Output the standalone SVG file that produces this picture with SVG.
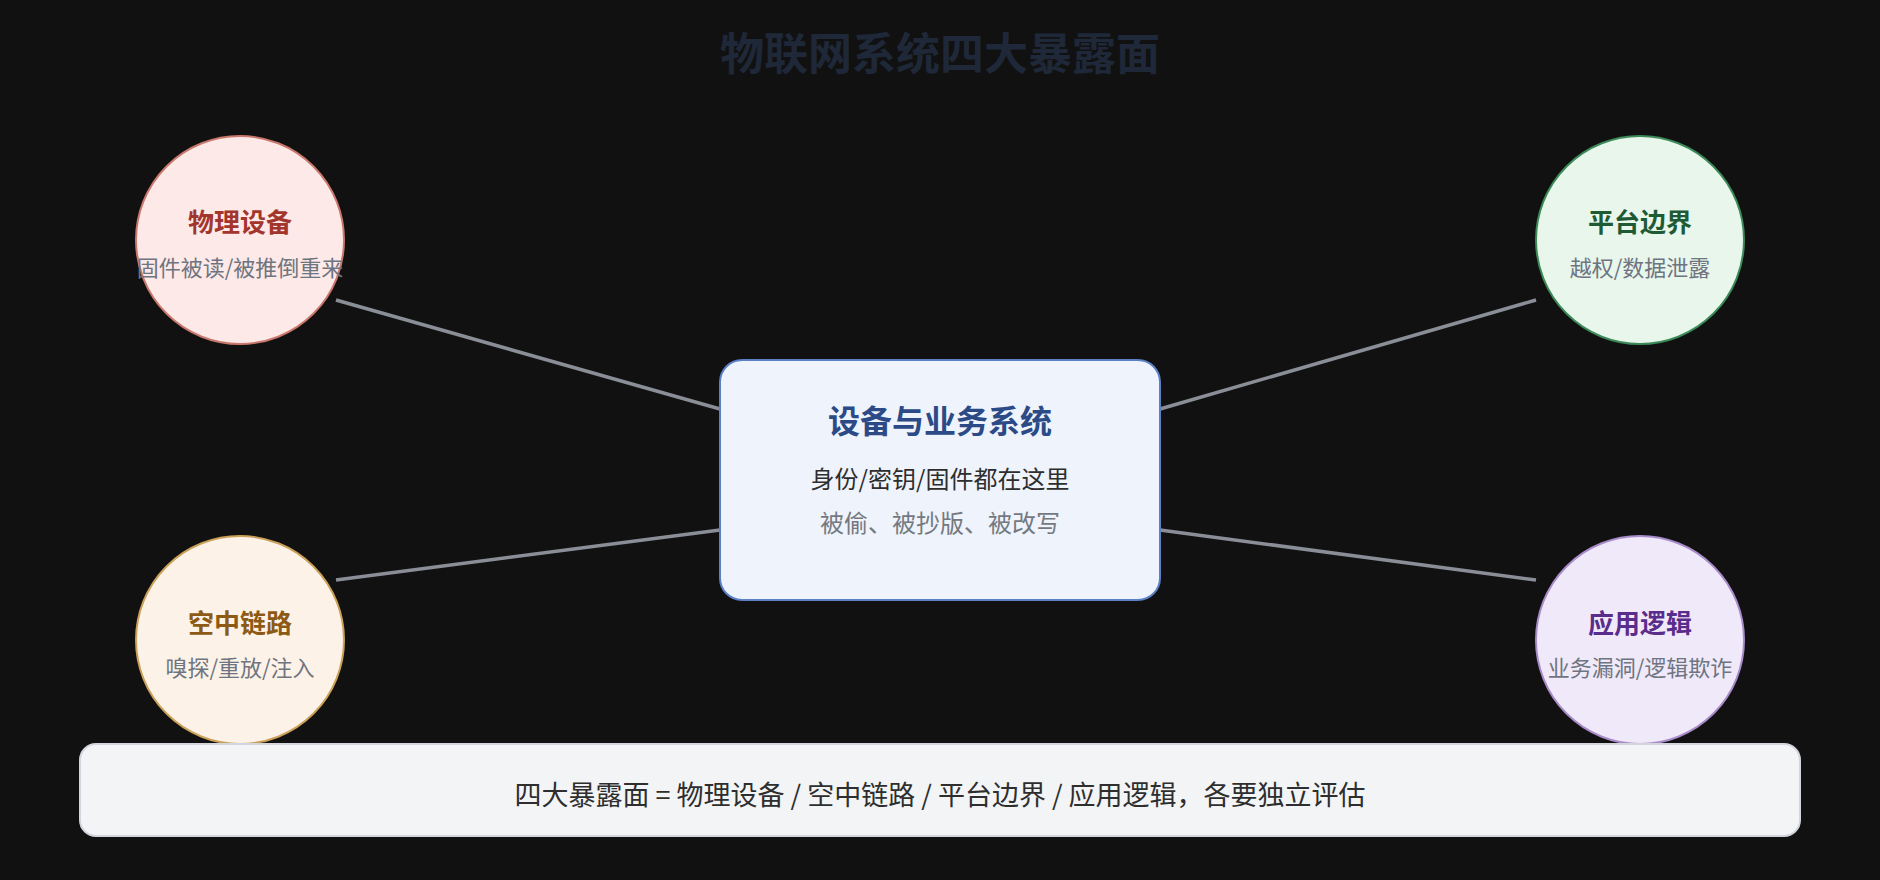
<svg xmlns="http://www.w3.org/2000/svg" width="1880" height="880" viewBox="0 0 1880 880">
<style>
text{font-family:"Noto Sans CJK SC","Noto Sans",sans-serif;text-anchor:middle}
.ttl{font-size:44px;font-weight:700;fill:#1f2838}
.edge{stroke:#8a8e97;stroke-width:3.5;fill:none}
.ct{font-size:26px;font-weight:700}
.cs{font-size:22px;fill:#6e7480}
.bt{font-size:32px;font-weight:700;fill:#2c4a86}
.b2{font-size:24px;fill:#2e2e2e}
.b3{font-size:24px;fill:#75797f}
.ft{font-size:27px;fill:#2e2e2e}
</style>
<rect width="1880" height="880" fill="#111111"/>
<text class="ttl" x="940" y="70">物联网系统四大暴露面</text>
<g id="connectors">
<line class="edge" x1="336" y1="300" x2="720" y2="409"/>
<line class="edge" x1="336" y1="580" x2="720" y2="530"/>
<line class="edge" x1="1160" y1="409" x2="1536" y2="300"/>
<line class="edge" x1="1160" y1="530" x2="1536" y2="580"/>
</g>
<g id="core">
<rect x="720" y="360" width="440" height="240" rx="22" fill="#eef3fc" stroke="#5b80c6" stroke-width="2"/>
<text class="bt" x="940" y="433">设备与业务系统</text>
<text class="b2" x="940" y="488">身份/密钥/固件都在这里</text>
<text class="b3" x="940" y="532">被偷、被抄版、被改写</text>
</g>
<g id="physical">
<circle cx="240" cy="240" r="104" fill="#fde9e7" stroke="#c9786e" stroke-width="2"/>
<text class="ct" x="240" y="232" fill="#a3362c">物理设备</text>
<text class="cs" x="240" y="276">固件被读/被推倒重来</text>
</g>
<g id="platform">
<circle cx="1640" cy="240" r="104" fill="#e8f6ec" stroke="#3b8a57" stroke-width="2"/>
<text class="ct" x="1640" y="232" fill="#1e5b34">平台边界</text>
<text class="cs" x="1640" y="276">越权/数据泄露</text>
</g>
<g id="air">
<circle cx="240" cy="640" r="104" fill="#fcf2e7" stroke="#cba15a" stroke-width="2"/>
<text class="ct" x="240" y="633" fill="#8c5a14">空中链路</text>
<text class="cs" x="240" y="676">嗅探/重放/注入</text>
</g>
<g id="app">
<circle cx="1640" cy="640" r="104" fill="#f0e9fa" stroke="#a88bc9" stroke-width="2"/>
<text class="ct" x="1640" y="633" fill="#5a2c8c">应用逻辑</text>
<text class="cs" x="1640" y="676">业务漏洞/逻辑欺诈</text>
</g>
<g id="summary">
<rect x="80" y="744" width="1720" height="92" rx="16" fill="#f3f4f6" stroke="#d2d5dc" stroke-width="2"/>
<text class="ft" x="940" y="805">四大暴露面 = 物理设备 / 空中链路 / 平台边界 / 应用逻辑，各要独立评估</text>
</g>
</svg>
